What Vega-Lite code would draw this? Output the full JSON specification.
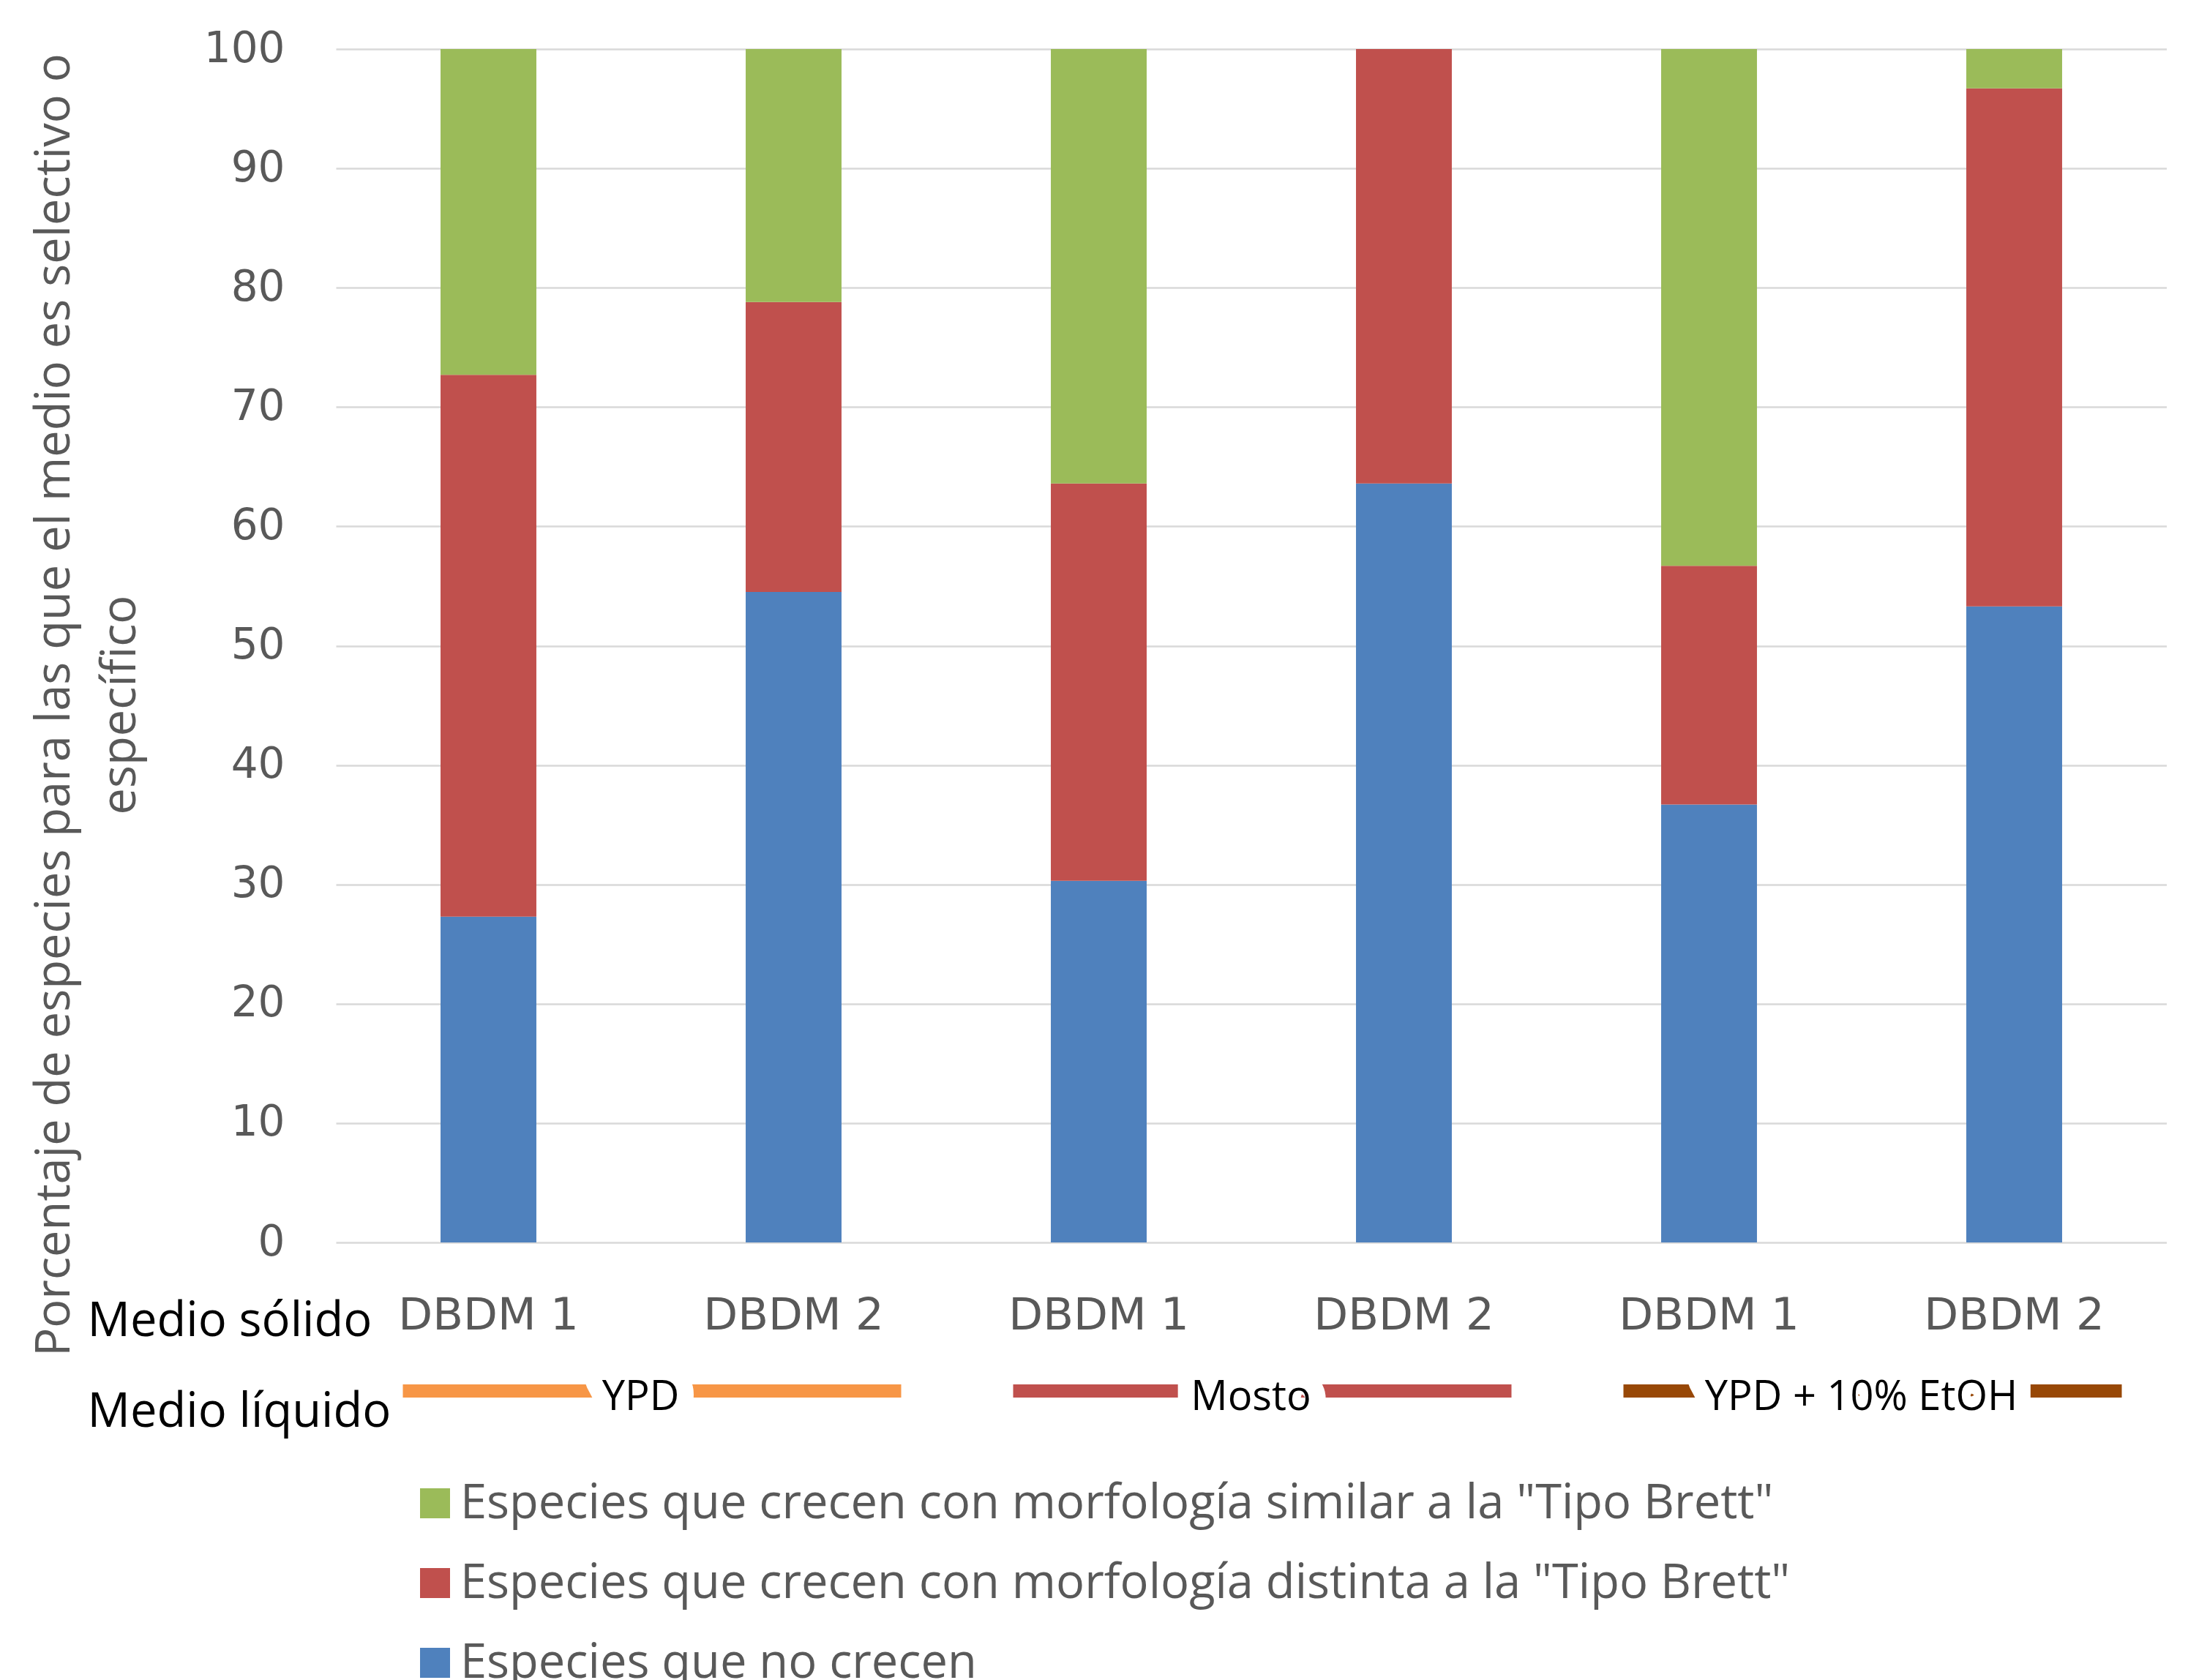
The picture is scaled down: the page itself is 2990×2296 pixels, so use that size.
{
  "$schema": "https://vega.github.io/schema/vega-lite/v6.json",
  "background": "white",
  "padding": {"left": 41, "top": 38, "right": 0, "bottom": 0},
  "bounds": "flush",
  "spacing": 46,
  "config": {"view": {"stroke": null}},
  "datasets": {
    "barras": [
      {"id": "YPD|DBDM 1", "grupo": "Especies que no crecen", "orden": 1, "valor": 27.3},
      {"id": "YPD|DBDM 1", "grupo": "Especies que crecen con morfología distinta a la \"Tipo Brett\"", "orden": 2, "valor": 45.4},
      {"id": "YPD|DBDM 1", "grupo": "Especies que crecen con morfología similar a la \"Tipo Brett\"", "orden": 3, "valor": 27.3},
      {"id": "YPD|DBDM 2", "grupo": "Especies que no crecen", "orden": 1, "valor": 54.5},
      {"id": "YPD|DBDM 2", "grupo": "Especies que crecen con morfología distinta a la \"Tipo Brett\"", "orden": 2, "valor": 24.3},
      {"id": "YPD|DBDM 2", "grupo": "Especies que crecen con morfología similar a la \"Tipo Brett\"", "orden": 3, "valor": 21.2},
      {"id": "Mosto|DBDM 1", "grupo": "Especies que no crecen", "orden": 1, "valor": 30.3},
      {"id": "Mosto|DBDM 1", "grupo": "Especies que crecen con morfología distinta a la \"Tipo Brett\"", "orden": 2, "valor": 33.3},
      {"id": "Mosto|DBDM 1", "grupo": "Especies que crecen con morfología similar a la \"Tipo Brett\"", "orden": 3, "valor": 36.4},
      {"id": "Mosto|DBDM 2", "grupo": "Especies que no crecen", "orden": 1, "valor": 63.6},
      {"id": "Mosto|DBDM 2", "grupo": "Especies que crecen con morfología distinta a la \"Tipo Brett\"", "orden": 2, "valor": 36.4},
      {"id": "Mosto|DBDM 2", "grupo": "Especies que crecen con morfología similar a la \"Tipo Brett\"", "orden": 3, "valor": 0},
      {"id": "YPD + 10% EtOH|DBDM 1", "grupo": "Especies que no crecen", "orden": 1, "valor": 36.7},
      {"id": "YPD + 10% EtOH|DBDM 1", "grupo": "Especies que crecen con morfología distinta a la \"Tipo Brett\"", "orden": 2, "valor": 20.0},
      {"id": "YPD + 10% EtOH|DBDM 1", "grupo": "Especies que crecen con morfología similar a la \"Tipo Brett\"", "orden": 3, "valor": 43.3},
      {"id": "YPD + 10% EtOH|DBDM 2", "grupo": "Especies que no crecen", "orden": 1, "valor": 53.3},
      {"id": "YPD + 10% EtOH|DBDM 2", "grupo": "Especies que crecen con morfología distinta a la \"Tipo Brett\"", "orden": 2, "valor": 43.4},
      {"id": "YPD + 10% EtOH|DBDM 2", "grupo": "Especies que crecen con morfología similar a la \"Tipo Brett\"", "orden": 3, "valor": 3.3}
    ],
    "liquido": [
      {"medio": "YPD", "fila": "Medio líquido", "desde": "YPD|DBDM 1", "hasta": "YPD|DBDM 2"},
      {"medio": "Mosto", "fila": "Medio líquido", "desde": "Mosto|DBDM 1", "hasta": "Mosto|DBDM 2"},
      {"medio": "YPD + 10% EtOH", "fila": "Medio líquido", "desde": "YPD + 10% EtOH|DBDM 1", "hasta": "YPD + 10% EtOH|DBDM 2"}
    ]
  },
  "vconcat": [
    {
      "width": 2502,
      "height": 1631,
      "data": {"name": "barras"},
      "mark": {"type": "bar"},
      "encoding": {
        "x": {
          "field": "id", "type": "nominal",
          "scale": {"domain": ["YPD|DBDM 1", "YPD|DBDM 2", "Mosto|DBDM 1", "Mosto|DBDM 2", "YPD + 10% EtOH|DBDM 1", "YPD + 10% EtOH|DBDM 2"], "paddingInner": 0.686, "paddingOuter": 0.343},
          "axis": {"title": null, "labelExpr": "split(datum.value, '|')[1]", "labelFont": "DejaVu Sans", "labelFontSize": 61, "labelColor": "#595959", "labelPadding": 70, "labelLimit": 1000, "ticks": false, "tickSize": 0, "domain": false, "grid": false, "labelAngle": 0}
        },
        "y": {
          "field": "valor", "type": "quantitative", "stack": "zero",
          "scale": {"domain": [0, 100], "nice": false},
          "axis": {
            "values": [0, 10, 20, 30, 40, 50, 60, 70, 80, 90, 100],
            "labelFont": "DejaVu Sans", "labelFontSize": 58, "labelColor": "#595959", "labelPadding": 70,
            "ticks": false, "tickSize": 0, "domain": false,
            "grid": true, "gridColor": "#D9D9D9", "gridWidth": 2.5,
            "title": ["Porcentaje de especies para las que el medio es selectivo o", "específico"],
            "titleFont": "Open Sans", "titleFontSize": 65, "titleFontWeight": "normal", "titleColor": "#595959",
            "titleX": -416, "titleY": 896, "titleAngle": -90, "titleAlign": "center", "titleBaseline": "top", "titleLineHeight": 90, "titleLimit": 3000
          }
        },
        "color": {
          "field": "grupo", "type": "nominal",
          "scale": {
            "domain": ["Especies que crecen con morfología similar a la \"Tipo Brett\"", "Especies que crecen con morfología distinta a la \"Tipo Brett\"", "Especies que no crecen"],
            "range": ["#9BBB59", "#C0504D", "#4F81BD"]
          },
          "legend": {
            "orient": "none", "legendX": 103, "legendY": 1955, "title": null, "direction": "vertical",
            "symbolType": "square", "symbolSize": 1680, "symbolStrokeWidth": 0,
            "labelFont": "Open Sans", "labelFontSize": 65, "labelColor": "#595959", "labelOffset": 2,
            "rowPadding": 43, "labelLimit": 3000
          }
        },
        "order": {"field": "orden", "type": "quantitative"}
      }
    },
    {
      "width": 2502,
      "height": 248,
      "data": {"name": "liquido"},
      "encoding": {
        "y": {
          "field": "fila", "type": "nominal",
          "scale": {"domain": ["Medio sólido", "Medio líquido"], "paddingInner": 0, "paddingOuter": 0},
          "axis": {"title": null, "labelFont": "Open Sans", "labelFontSize": 65, "labelColor": "black", "labelAlign": "left", "labelBaseline": "middle", "labelPadding": 340, "labelLimit": 1000, "ticks": false, "tickSize": 0, "domain": false, "grid": false}
        }
      },
      "layer": [
        {
          "mark": {"type": "rule", "strokeWidth": 18, "strokeCap": "butt", "xOffset": -117, "x2Offset": 147, "yOffset": -29, "y2Offset": -29},
          "encoding": {
            "x": {"field": "desde", "type": "nominal", "axis": null},
            "x2": {"field": "hasta"},
            "stroke": {"field": "medio", "type": "nominal", "scale": {"domain": ["YPD", "Mosto", "YPD + 10% EtOH"], "range": ["#F79646", "#C0504D", "#984807"]}, "legend": null}
          }
        },
        {
          "mark": {"type": "text", "font": "Open Sans", "fontSize": 56, "dx": 208, "dy": -20, "fill": "white", "stroke": "white", "strokeWidth": 46, "strokeJoin": "round", "baseline": "middle", "align": "center"},
          "encoding": {
            "x": {"field": "desde", "type": "nominal", "axis": null},
            "text": {"field": "medio"}
          }
        },
        {
          "mark": {"type": "text", "font": "Open Sans", "fontSize": 56, "dx": 208, "dy": -20, "color": "black", "baseline": "middle", "align": "center"},
          "encoding": {
            "x": {"field": "desde", "type": "nominal", "axis": null},
            "text": {"field": "medio"}
          }
        }
      ]
    }
  ],
  "resolve": {"scale": {"x": "shared", "color": "independent", "stroke": "independent"}, "legend": {"color": "independent"}}
}
